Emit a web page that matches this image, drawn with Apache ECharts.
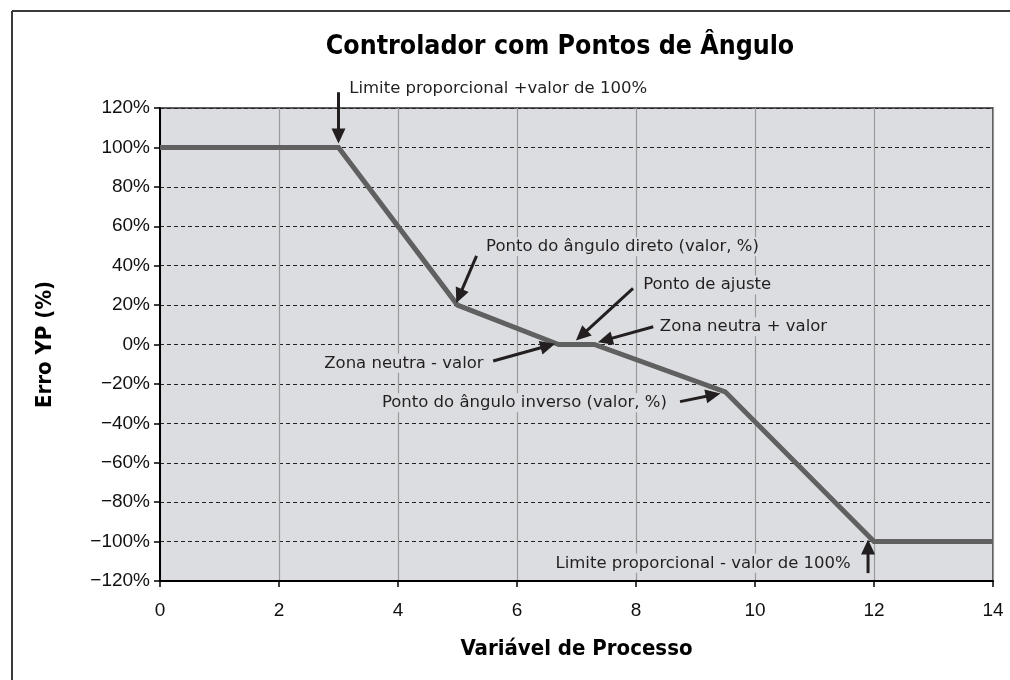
<!DOCTYPE html>
<html>
<head>
<meta charset="utf-8">
<script src="https://cdn.jsdelivr.net/npm/echarts@6/dist/echarts.min.js"></script>
<style>
  html, body { margin: 0; padding: 0; background: #fff; }
  #main { width: 1010px; height: 680px; }
</style>
</head>
<body>
<div id="main"></div>
<script>
//== dados do controlador
var xValues = [0, 3, 5, 6.7, 7.3, 9.5, 12, 14];
var yValues = [100, 100, 20, 0, 0, -24, -100, -100];
var yTicks = { min: -120, max: 120, interval: 20 };
var xTicks = { min: 0, max: 14, interval: 2 };

// anotações: texto, cauda e ponta da seta, ponto do texto (coordenadas dos eixos)
var notes = [
    { text: 'Limite proporcional +valor de 100%', tail: [3, 128], head: [3, 102], at: [3.13, 130], align: 'left', bg: '#fff' },
    { text: 'Ponto do ângulo direto (valor, %)', tail: [5.32, 45], head: [4.98, 21], at: [5.43, 49.6], align: 'left' },
    { text: 'Ponto de ajuste', tail: [7.95, 28.5], head: [6.99, 2], at: [8.07, 30.2], align: 'left' },
    { text: 'Zona neutra + valor', tail: [8.29, 9], head: [7.36, 1.2], at: [8.35, 9], align: 'left' },
    { text: 'Zona neutra - valor', tail: [5.6, -8.4], head: [6.64, 0.4], at: [5.49, -9.5], align: 'right' },
    { text: 'Ponto do ângulo inverso (valor, %)', tail: [8.74, -29], head: [9.42, -24.8], at: [8.57, -29.5], align: 'right' },
    { text: 'Limite proporcional - valor de 100%', tail: [11.9, -116], head: [11.9, -99], at: [11.66, -111], align: 'right' }
];

var mAngleChart = function () {
    var regular = '"Liberation Sans", Arial, sans-serif';
    var noteFont = '"DejaVu Sans", "Liberation Sans", sans-serif';
    var narrow = '"Liberation Sans Narrow", "DejaVu Sans Condensed", "Liberation Sans", sans-serif';

    var buildArrows = function (chart) {
        var items = [];
        var toPx = function (p) {
            return chart.convertToPixel({ gridIndex: 0 }, p);
        };
        notes.forEach(function (n) {
            var t = toPx(n.tail), h = toPx(n.head);
            var dx = h[0] - t[0], dy = h[1] - t[1];
            var len = Math.sqrt(dx * dx + dy * dy);
            var ux = dx / len, uy = dy / len;
            var headLen = 15, headW = 7;
            var bx = h[0] - ux * headLen, by = h[1] - uy * headLen;
            items.push({
                type: 'line', silent: true, z: 100,
                shape: { x1: t[0], y1: t[1], x2: bx + ux * 2, y2: by + uy * 2 },
                style: { stroke: '#231f20', lineWidth: 3 }
            });
            items.push({
                type: 'polygon', silent: true, z: 100,
                shape: { points: [[h[0], h[1]], [bx - uy * headW, by + ux * headW], [bx + uy * headW, by - ux * headW]] },
                style: { fill: '#231f20' }
            });
            var a = toPx(n.at);
            items.push({
                type: 'text', silent: true, z: 90, x: a[0], y: a[1],
                style: {
                    text: n.text, font: '16.5px ' + noteFont, fill: '#231f20',
                    align: n.align, textAlign: n.align,
                    verticalAlign: 'middle', textVerticalAlign: 'middle',
                    backgroundColor: n.bg || '#dcdde0', padding: [1, 3]
                }
            });
        });
        // moldura da figura (topo e esquerda)
        items.push({ type: 'line', silent: true, shape: { x1: 12, y1: 11, x2: 1010, y2: 11 }, style: { stroke: '#3a3a3a', lineWidth: 2 } });
        items.push({ type: 'line', silent: true, shape: { x1: 12, y1: 11, x2: 12, y2: 680 }, style: { stroke: '#3a3a3a', lineWidth: 2 } });
        return items;
    };

    var initChart = function (selector) {
        var chart = echarts.init(document.querySelector(selector), null, { renderer: 'canvas' });
        var option = {
            animation: false,
            backgroundColor: '#fff',
            title: {
                text: 'Controlador com Pontos de Ângulo',
                left: 555, top: 29, textAlign: 'center',
                textStyle: { fontFamily: narrow, fontWeight: 'bold', fontSize: 26.5, color: '#000' }
            },
            grid: {
                left: 160, right: 17, top: 108, bottom: 99,
                show: true, backgroundColor: '#dcdde0', borderColor: '#2b2b2b', borderWidth: 1.5
            },
            xAxis: {
                type: 'value', min: xTicks.min, max: xTicks.max, interval: xTicks.interval,
                name: 'Variável de Processo', nameLocation: 'middle', nameGap: 57,
                nameTextStyle: { fontFamily: narrow, fontWeight: 'bold', fontSize: 22, color: '#000' },
                axisLine: { onZero: false, lineStyle: { color: '#000', width: 2 } },
                axisTick: { show: true, length: 6, lineStyle: { color: '#000', width: 1.5 } },
                axisLabel: { fontFamily: regular, fontSize: 19, color: '#111', margin: 20 },
                splitLine: { show: true, lineStyle: { color: '#9a9a9a', width: 1.2, type: 'solid' } }
            },
            yAxis: {
                type: 'value', min: yTicks.min, max: yTicks.max, interval: yTicks.interval,
                name: 'Erro YP (%)', nameLocation: 'middle', nameGap: 104, nameRotate: 90,
                nameTextStyle: { fontFamily: narrow, fontWeight: 'bold', fontSize: 22, color: '#000' },
                axisLine: { onZero: false, lineStyle: { color: '#000', width: 2 } },
                axisTick: { show: true, length: 6, lineStyle: { color: '#000', width: 1.5 } },
                axisLabel: {
                    fontFamily: regular, fontSize: 19, color: '#111', margin: 10,
                    formatter: function (v) { return (v < 0 ? '\u2212' + (-v) : v) + '%'; }
                },
                splitLine: { show: true, lineStyle: { color: '#222', width: 1, type: [4, 3] } }
            },
            series: [{
                type: 'line',
                data: xValues.map(function (x, i) { return [x, yValues[i]]; }),
                showSymbol: false, symbol: 'none',
                lineStyle: { color: '#606060', width: 5, join: 'miter' },
                z: 50
            }]
        };
        chart.setOption(option, true);
        chart.setOption({ graphic: buildArrows(chart) });
    };

    return {
        init: function () {
            initChart('#main');
        }
    };
}();

mAngleChart.init();
</script>
</body>
</html>
